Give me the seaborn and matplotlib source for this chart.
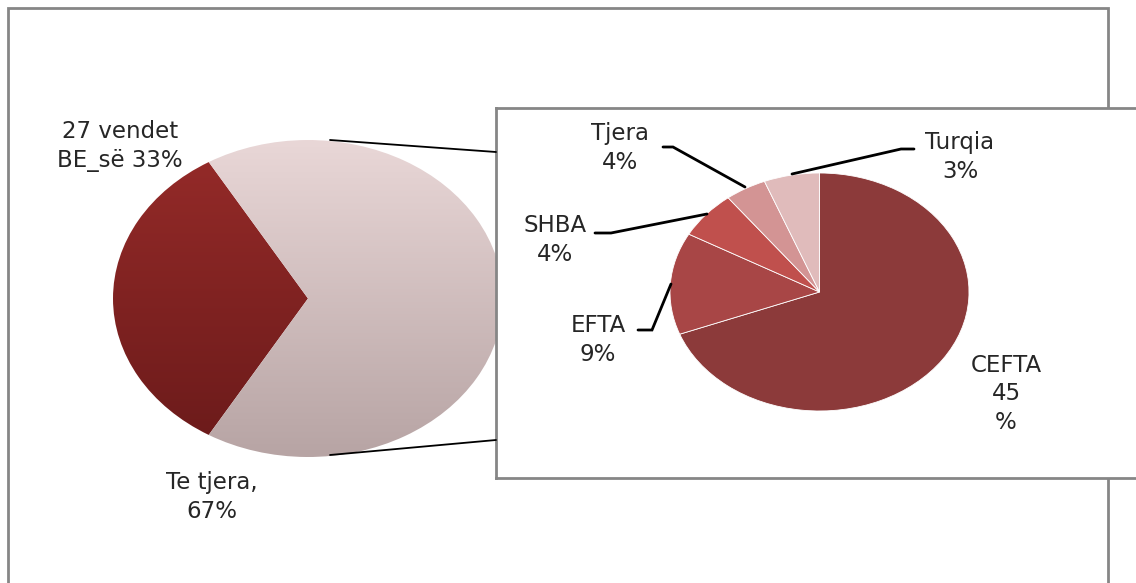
import numpy as np
import seaborn as sns
import matplotlib.pyplot as plt
from matplotlib.patches import Rectangle
from matplotlib.lines import Line2D
from matplotlib.colors import ListedColormap

# main pie
main_labels = ['27 vendet\nBE_së 33%', 'Te tjera,\n67%']
main_values = [33, 67]

# breakdown of "Te tjera"
sub_names = ['CEFTA', 'EFTA', 'SHBA', 'Tjera', 'Turqia']
sub_values = [45, 9, 4.2, 2.9, 3.9]
sub_labels = ['CEFTA\n45\n%', 'EFTA\n9%', 'SHBA\n4%', 'Tjera\n4%', 'Turqia\n3%']
sub_colors = ['#8C3A3A', '#A84646', '#C0504D', '#D39494', '#E0BBBB']

sns.set_theme(style='white')
plt.rcParams['font.family'] = ['DejaVu Sans']

W, H = 1136, 583
def fx(x):
    return x / W
def fy(y):
    return 1 - y / H

fig = plt.figure(figsize=(W / 100, H / 100), dpi=100)
fig.patch.set_facecolor('white')

# outer frame (below everything else)
fig.add_artist(Rectangle((fx(8), fy(620)), fx(1108) - fx(8), fy(8) - fy(620),
                         transform=fig.transFigure, fill=False,
                         edgecolor='#868686', lw=2, zorder=-5))

# big pie with vertical gradients
ax1 = fig.add_axes([fx(113), fy(457), fx(503) - fx(113), fy(140) - fy(457)])
wedges, _ = ax1.pie(main_values, startangle=120.6, radius=1,
                    colors=['none', 'none'], wedgeprops=dict(linewidth=0))
grads = [['#962B29', '#6A1A1A'], ['#E9D7D7', '#B7A4A4']]
grad = np.linspace(0, 1, 256).reshape(-1, 1)
for w, g in zip(wedges, grads):
    cmap = ListedColormap(sns.blend_palette(g, n_colors=256))
    im = ax1.imshow(grad, cmap=cmap, extent=[-1, 1, -1, 1], aspect='auto',
                    origin='upper', zorder=1)
    im.set_clip_path(w)
ax1.set_xlim(-1, 1)
ax1.set_ylim(-1, 1)
ax1.set_aspect('auto')
ax1.axis('off')

txt = dict(ha='center', va='center', fontsize=16.5, linespacing=1.3,
           color='#262626')
fig.text(fx(120), fy(146), main_labels[0], **txt)
fig.text(fx(212), fy(497), main_labels[1], **txt)

# connector lines
for (x0, y0, x1, y1) in [(330, 140, 496, 152), (330, 455, 496, 440)]:
    fig.add_artist(Line2D([fx(x0), fx(x1)], [fy(y0), fy(y1)],
                          transform=fig.transFigure, color='black', lw=1.3))

# box for secondary pie
axb = fig.add_axes([fx(496), fy(478), fx(1160) - fx(496), fy(108) - fy(478)])
axb.set_facecolor('white')
axb.set_xticks([])
axb.set_yticks([])
for s in axb.spines.values():
    s.set_color('#868686')
    s.set_linewidth(2)

# secondary pie
ax2 = fig.add_axes([fx(670), fy(411), fx(969) - fx(670), fy(173) - fy(411)])
ax2.pie(sub_values, startangle=90, counterclock=False, colors=sub_colors,
        radius=1, wedgeprops=dict(edgecolor='white', linewidth=0.6))
ax2.set_xlim(-1, 1)
ax2.set_ylim(-1, 1)
ax2.set_aspect('auto')
ax2.axis('off')

label_pos = {'CEFTA': (1006, 394), 'EFTA': (598, 340), 'SHBA': (555, 240),
             'Tjera': (620, 148), 'Turqia': (960, 157)}
for name, lab in zip(sub_names, sub_labels):
    x, y = label_pos[name]
    fig.text(fx(x), fy(y), lab, **txt)

leaders = [
    [(663, 147), (673, 147), (745, 187)],
    [(914, 149), (901, 149), (792, 174)],
    [(595, 233), (611, 233), (707, 214)],
    [(638, 330), (652, 330), (671, 284)],
]
for pts in leaders:
    xs = [fx(p[0]) for p in pts]
    ys = [fy(p[1]) for p in pts]
    fig.add_artist(Line2D(xs, ys, transform=fig.transFigure, color='black',
                          lw=2, solid_joinstyle='miter'))

fig.savefig('out.png', dpi=100)
